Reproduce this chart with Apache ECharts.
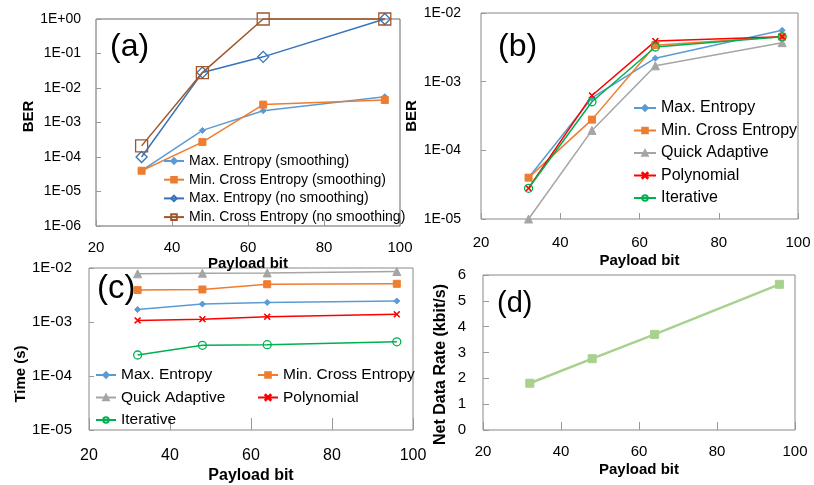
<!DOCTYPE html>
<html>
<head>
<meta charset="utf-8">
<script src="https://cdn.jsdelivr.net/npm/echarts@6/dist/echarts.min.js"></script>
<style>html,body{margin:0;padding:0;background:#fff}#c{width:814px;height:485px}</style>
</head>
<body>
<div id="c"></div>
<script>
// ---------- data ----------
const payload = [32, 48, 64, 96];
const xTicks = [20, 40, 60, 80, 100];

// (a) BER with / without smoothing
const aMaxEntSmooth = [4.0e-5, 5.9e-4, 2.2e-3, 5.6e-3];
const aMinCrossSmooth = [4.0e-5, 2.7e-4, 3.3e-3, 4.5e-3];
const aMaxEntNoSmooth = [1.0e-4, 2.8e-2, 8.0e-2, 1.0];
const aMinCrossNoSmooth = [2.1e-4, 2.8e-2, 1.0, 1.0];

// (b) BER per method
const bMaxEnt = [4.0e-5, 5.8e-4, 2.2e-3, 5.6e-3];
const bMinCross = [4.0e-5, 2.8e-4, 3.4e-3, 4.5e-3];
const bQuick = [1.0e-5, 1.95e-4, 1.7e-3, 3.7e-3];
const bPoly = [2.8e-5, 6.3e-4, 3.9e-3, 4.5e-3];
const bIter = [2.8e-5, 5.1e-4, 3.2e-3, 4.5e-3];

// (c) time per method (s)
const cMaxEnt = [1.7e-3, 2.15e-3, 2.3e-3, 2.45e-3];
const cMinCross = [3.9e-3, 4.0e-3, 5.0e-3, 5.1e-3];
const cQuick = [7.8e-3, 8.0e-3, 8.1e-3, 8.6e-3];
const cPoly = [1.07e-3, 1.13e-3, 1.25e-3, 1.39e-3];
const cIter = [2.45e-4, 3.7e-4, 3.8e-4, 4.3e-4];

// (d) net data rate (kbit/s)
const dRate = [1.81, 2.76, 3.70, 5.64];

const namesA = ['Max. Entropy (smoothing)', 'Min. Cross Entropy (smoothing)', 'Max. Entropy (no smoothing)', 'Min. Cross Entropy (no smoothing)'];
const namesB = ['Max. Entropy', 'Min. Cross Entropy', 'Quick Adaptive', 'Polynomial', 'Iterative'];
const panelLabels = ['(a)', '(b)', '(c)', '(d)'];

// ---------- helpers ----------
const FONT = '"Liberation Sans", Arial, sans-serif';
const pts = (ys) => payload.map((x, i) => [x, ys[i]]);
const expFmt = (v) => {
  const e = Math.round(Math.log10(v));
  return '1E' + (e < 0 ? '-' : '+') + String(Math.abs(e)).padStart(2, '0');
};
const C = { blue: '#5B9BD5', orange: '#ED7D31', gray: '#A5A5A5', red: '#FF0000', green: '#00B050',
            dblue: '#3573B9', brown: '#A0562A', lgreen: '#A9D18E' };
const XPATH = 'path://M0,1 L1,0 L5,4 L9,0 L10,1 L6,5 L10,9 L9,10 L5,6 L1,10 L0,9 L4,5 Z';

function xAx(g, fs, margin, nameGap, nfs, tickLen) {
  return { gridIndex: g, type: 'value', min: xTicks[0], max: xTicks[xTicks.length - 1], interval: xTicks[1] - xTicks[0],
    axisLine: { show: false }, splitLine: { show: false },
    axisTick: { show: true, inside: true, length: tickLen, lineStyle: { color: '#999' } },
    axisLabel: { fontSize: fs, color: '#000', margin: margin, fontFamily: FONT },
    name: 'Payload bit', nameLocation: 'middle', nameGap: nameGap,
    nameTextStyle: { fontSize: nfs, fontWeight: 'bold', color: '#000', fontFamily: FONT } };
}
function yAx(g, opts) {
  return Object.assign({ gridIndex: g,
    axisLine: { show: false }, splitLine: { show: false },
    axisTick: { show: true, inside: true, length: 5, lineStyle: { color: '#999' } },
    nameLocation: 'middle' }, opts);
}
function line(name, xi, yi, data, color, symbol, size, extra) {
  return Object.assign({ type: 'line', name: name, xAxisIndex: xi, yAxisIndex: yi, data: pts(data),
    symbol: symbol, symbolSize: size, clip: false,
    lineStyle: { color: color, width: 1.5 },
    itemStyle: { color: color, borderColor: color, borderWidth: 1 } }, extra || {});
}
const hollow = (color) => ({ itemStyle: { color: 'rgba(255,255,255,0)', borderColor: color, borderWidth: 1.3 } });

const option = {
  animation: false,
  backgroundColor: '#fff',
  textStyle: { fontFamily: FONT },
  grid: [
    { left: 96, top: 19, width: 304, height: 207, show: true, borderColor: '#666', borderWidth: 1 },
    { left: 481, top: 13, width: 317, height: 206, show: true, borderColor: '#888', borderWidth: 1 },
    { left: 89, top: 268, width: 324, height: 166, show: true, borderColor: '#888', borderWidth: 1 },
    { left: 483, top: 275, width: 312, height: 155, show: true, borderColor: '#888', borderWidth: 1 }
  ],
  xAxis: [
    xAx(0, 15, 14, 28, 15, 6),
    xAx(1, 15, 16, 34, 15, 6),
    xAx(2, 16, 18, 38, 16, 12),
    xAx(3, 15, 14, 32, 15, 8)
  ],
  yAxis: [
    yAx(0, { type: 'log', min: 1e-6, max: 1, name: 'BER', nameGap: 56,
      axisLabel: { formatter: expFmt, fontSize: 14, color: '#000', margin: 15, fontFamily: FONT },
      nameTextStyle: { fontSize: 15, fontWeight: 'bold', color: '#000', padding: [0, 0, 0, 12], fontFamily: FONT } }),
    yAx(1, { type: 'log', min: 1e-5, max: 1e-2, name: 'BER', nameGap: 48,
      axisLabel: { formatter: expFmt, fontSize: 14, color: '#000', margin: 20, fontFamily: FONT },
      nameTextStyle: { fontSize: 15, fontWeight: 'bold', color: '#000', fontFamily: FONT } }),
    yAx(2, { type: 'log', min: 1e-5, max: 1e-2, name: 'Time (s)', nameGap: 60,
      axisLabel: { formatter: expFmt, fontSize: 15, color: '#000', margin: 17, fontFamily: FONT },
      nameTextStyle: { fontSize: 15, fontWeight: 'bold', color: '#000', padding: [0, 50, 0, 0], fontFamily: FONT } }),
    yAx(3, { type: 'value', min: 0, max: 6, interval: 1, name: 'Net Data Rate (kbit/s)', nameGap: 34,
      axisTick: { show: true, inside: true, length: 6, lineStyle: { color: '#999' } },
      axisLabel: { fontSize: 15, color: '#000', margin: 17, fontFamily: FONT },
      nameTextStyle: { fontSize: 16, fontWeight: 'bold', color: '#000', padding: [0, 24, 0, 0], fontFamily: FONT } })
  ],
  legend: [
    { data: namesA, orient: 'vertical', left: 163, top: 154, padding: 0, itemWidth: 20, itemHeight: 7, itemGap: 4.7,
      textStyle: { fontSize: 14, color: '#000', lineHeight: 14, fontFamily: FONT } },
    { data: namesB, orient: 'vertical', left: 633, top: 100, padding: 0, itemWidth: 22, itemHeight: 7, itemGap: 6.5,
      textStyle: { fontSize: 16, color: '#000', lineHeight: 16, fontFamily: FONT } },
    { data: [namesB[0], namesB[2], namesB[4]], orient: 'vertical', left: 95, top: 367, padding: 0, itemWidth: 20, itemHeight: 7, itemGap: 6.5,
      textStyle: { fontSize: 15.5, color: '#000', lineHeight: 16, fontFamily: FONT } },
    { data: [namesB[1], namesB[3]], orient: 'vertical', left: 257, top: 367, padding: 0, itemWidth: 20, itemHeight: 7, itemGap: 6.5,
      textStyle: { fontSize: 15.5, color: '#000', lineHeight: 16, fontFamily: FONT } }
  ],
  graphic: [
    { type: 'text', left: 110, top: 31, style: { text: panelLabels[0], fontSize: 32, fontFamily: FONT, fill: '#000' } },
    { type: 'text', left: 498, top: 31, style: { text: panelLabels[1], fontSize: 32, fontFamily: FONT, fill: '#000' } },
    { type: 'text', left: 97, top: 272, style: { text: panelLabels[2], fontSize: 33, fontFamily: FONT, fill: '#000' } },
    { type: 'text', left: 497, top: 289, style: { text: panelLabels[3], fontSize: 29, fontFamily: FONT, fill: '#000' } }
  ],
  series: [
    // (a)
    line(namesA[0], 0, 0, aMaxEntSmooth, C.blue, 'diamond', 6),
    line(namesA[1], 0, 0, aMinCrossSmooth, C.orange, 'rect', 7),
    line(namesA[2], 0, 0, aMaxEntNoSmooth, C.dblue, 'diamond', 11, hollow(C.dblue)),
    line(namesA[3], 0, 0, aMinCrossNoSmooth, C.brown, 'rect', 12, hollow(C.brown)),
    // (b)
    line(namesB[0], 1, 1, bMaxEnt, C.blue, 'diamond', 6),
    line(namesB[1], 1, 1, bMinCross, C.orange, 'rect', 7),
    line(namesB[2], 1, 1, bQuick, C.gray, 'triangle', 8),
    line(namesB[3], 1, 1, bPoly, C.red, XPATH, 6),
    line(namesB[4], 1, 1, bIter, C.green, 'circle', 8, hollow(C.green)),
    // (c)
    line(namesB[0], 2, 2, cMaxEnt, C.blue, 'diamond', 6),
    line(namesB[1], 2, 2, cMinCross, C.orange, 'rect', 7),
    line(namesB[2], 2, 2, cQuick, C.gray, 'triangle', 8),
    line(namesB[3], 2, 2, cPoly, C.red, XPATH, 6),
    line(namesB[4], 2, 2, cIter, C.green, 'circle', 8, hollow(C.green)),
    // (d)
    line('Net Data Rate', 3, 3, dRate, C.lgreen, 'rect', 8, { lineStyle: { color: C.lgreen, width: 2.5 } })
  ]
};

const chart = echarts.init(document.getElementById('c'), null, { renderer: 'canvas' });
chart.setOption(option);
</script>
</body>
</html>
